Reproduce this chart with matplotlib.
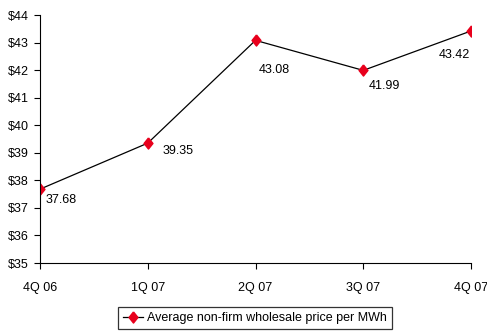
import matplotlib
matplotlib.use('Agg')
import matplotlib.pyplot as plt

quarters = ['4Q 06', '1Q 07', '2Q 07', '3Q 07', '4Q 07']
prices = [37.68, 39.35, 43.08, 41.99, 43.42]
# label offsets in points (dx, dy) and alignment for each value label
label_pos = [(4, -8, 'left'), (11, -6, 'left'), (2, -21, 'left'), (4, -11, 'left'), (-1, -17, 'right')]

plt.rcParams['font.family'] = ['Liberation Sans', 'DejaVu Sans']

fig = plt.figure(figsize=(4.87, 3.36), dpi=100)
ax = fig.add_axes([40 / 487, 1 - 263 / 336, 431 / 487, 248 / 336])

# slightly narrow diamond
diamond = [(0, 1), (0.8, 0), (0, -1), (-0.8, 0), (0, 1)]

x = list(range(len(quarters)))
ax.plot(x, prices, color='black', linewidth=0.9, marker=diamond, markersize=8,
        markerfacecolor='#e8001c', markeredgecolor='#e8001c',
        label='Average non-firm wholesale price per MWh')

for xi, p, (dx, dy, ha) in zip(x, prices, label_pos):
    ax.annotate(f'{p:.2f}', (xi, p), xytext=(dx, dy), textcoords='offset points',
                ha=ha, va='center', fontsize=9)

ax.set_xlim(0, len(quarters) - 1)
ax.set_ylim(35, 44)
ax.set_xticks(x)
ax.set_xticklabels(quarters, fontsize=9)
ax.set_yticks(range(35, 45))
ax.set_yticklabels([f'${v}' for v in range(35, 45)], fontsize=9)
ax.tick_params(axis='x', length=4, width=0.8, pad=10)
ax.tick_params(axis='y', length=4, width=0.8, pad=4)
ax.spines['top'].set_visible(False)
ax.spines['right'].set_visible(False)

leg = fig.legend(loc='center', bbox_to_anchor=(255 / 487, 1 - 318 / 336), fontsize=9,
                 frameon=True, fancybox=False, edgecolor='black', handlelength=1.6,
                 handletextpad=0.3, borderpad=0.4)
leg.get_frame().set_linewidth(0.9)

fig.savefig('out.png', dpi=100, facecolor='white')
